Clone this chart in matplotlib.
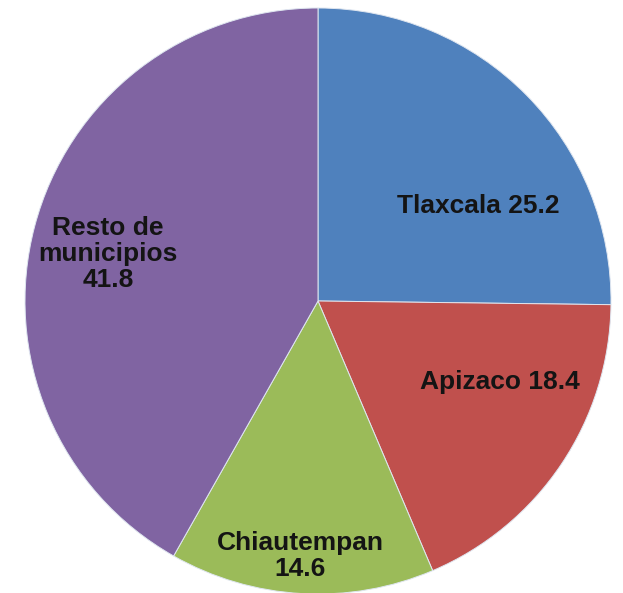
import numpy as np
import matplotlib.pyplot as plt

labels = ['Tlaxcala 25.2', 'Apizaco 18.4', 'Chiautempan\n14.6', 'Resto de\nmunicipios\n41.8']
values = [25.2, 18.4, 14.6, 41.8]
colors = ['#4F81BD', '#C0504D', '#9BBB59', '#8064A2']

# label placement: (angle in degrees, radius as fraction of pie radius)
label_pos = [(30.7, 0.635), (-24.0, 0.68), (-94.0, 0.872), (167.4, 0.734)]

W, H = 623, 593
cx, cy, R = 318, 301, 293

fig = plt.figure(figsize=(W / 100, H / 100), dpi=100)
ax = fig.add_axes([0, 0, 1, 1])
ax.pie(values, colors=colors, startangle=90, counterclock=False, radius=1,
       wedgeprops=dict(edgecolor='#dfe6f0', linewidth=0.7))
ax.set_xlim(-cx / R, (W - cx) / R)
ax.set_ylim(-(H - cy) / R, cy / R)
ax.set_aspect('auto')
ax.axis('off')

for lab, (ang, r) in zip(labels, label_pos):
    a = np.deg2rad(ang)
    ax.text(r * np.cos(a), r * np.sin(a), lab, ha='center', va='center',
            fontsize=19, fontweight='bold', family='Liberation Sans',
            color='#141414', linespacing=1.12)

fig.savefig('out.png', dpi=100)
